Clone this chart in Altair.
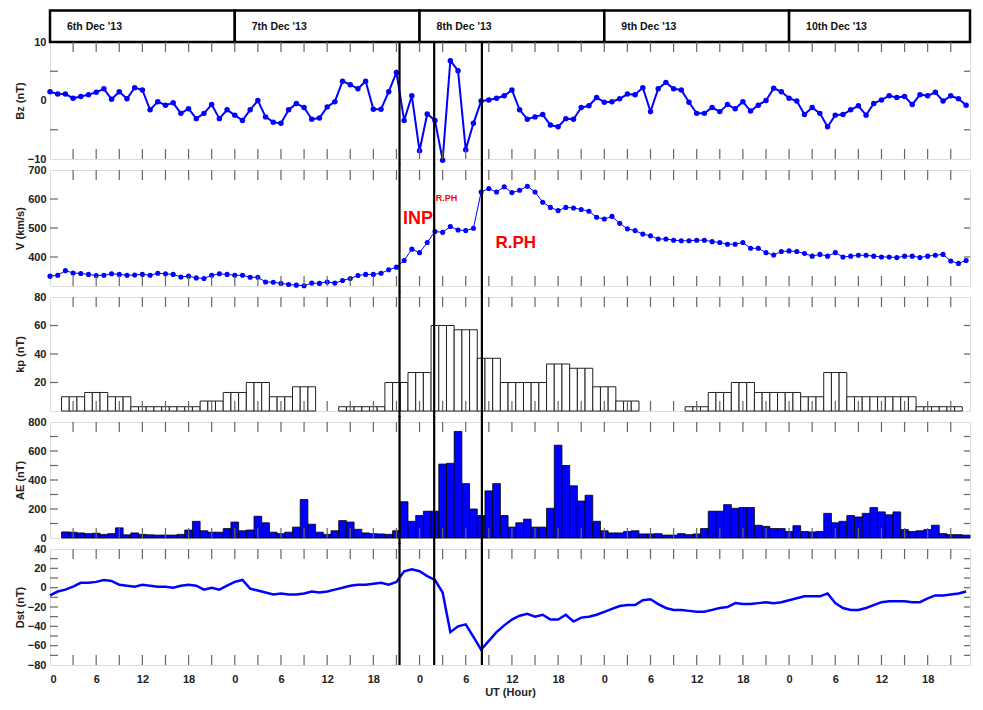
import altair as alt
import pandas as pd

# ---------------- data ----------------
hours = list(range(120))

bz = [1.5, 1.1, 1.1, 0.4, 0.7, 1.0, 1.4, 2.0, 0.2, 1.5, 0.3, 2.2, 1.8, -1.6, -0.2, -0.8, -0.4, -2.2, -1.4, -3.1,
      -2.2, -0.7, -3.1, -1.6, -2.5, -3.4, -1.6, 0.0, -2.8, -3.7, -3.9, -1.6, -0.5, -1.2, -3.2, -3.0, -1.1, -0.2, 3.3, 2.7,
      2.0, 3.3, -1.5, -1.5, 1.5, 4.8, -3.4, 0.8, -8.6, -2.3, -3.4, -10.2, 6.8, 5.1, -8.4, -3.9, -0.1, 0.1, 0.4, 0.8,
      1.8, -1.6, -3.2, -2.8, -2.4, -4.2, -4.5, -3.1, -3.2, -1.2, -0.9, 0.5, -0.3, -0.2, 0.3, 1.1, 1.0, 2.2, -1.9, 2.0,
      3.1, 2.0, 1.8, -0.3, -2.2, -2.2, -1.2, -1.9, -0.7, -1.4, -0.2, -1.8, -0.8, 0.0, 2.1, 1.5, 0.4, -0.1, -2.4, -1.2,
      -2.2, -4.5, -2.5, -2.4, -1.6, -0.9, -2.5, -0.5, 0.1, 0.8, 0.5, 0.7, -0.7, 1.0, 0.8, 1.4, -0.1, 0.8, 0.3, -0.8]

speed = [334, 337, 353, 345, 343, 340, 336, 337, 342, 340, 337, 338, 340, 337, 344, 342, 340, 331, 334, 328,
         326, 337, 342, 340, 337, 337, 330, 330, 314, 313, 309, 305, 303, 301, 310, 309, 314, 310, 319, 326,
         336, 340, 340, 344, 356, 365, 388, 427, 415, 450, 488, 485, 505, 493, 491, 499, 624, 636, 624, 642,
         622, 630, 644, 624, 589, 571, 560, 571, 569, 564, 558, 537, 531, 540, 516, 497, 491, 479, 473, 462,
         462, 458, 456, 456, 458, 458, 453, 450, 444, 444, 450, 430, 430, 415, 407, 419, 421, 419, 412, 403,
         409, 403, 415, 400, 403, 406, 406, 403, 400, 400, 398, 403, 403, 398, 403, 406, 409, 386, 378, 388]

# kp: one value per 3-hour block, first block covers hours 2-4
kp_blocks = [10, 13, 10, 3, 3, 3, 7, 13, 20, 10, 17, 0, 3, 3, 20, 27, 60, 57, 37, 20,
             20, 33, 30, 17, 7, 0, 0, 3, 13, 20, 13, 13, 10, 27, 10, 10, 10, 3, 3]

ae = [0, 0, 42, 40, 35, 30, 33, 25, 30, 70, 22, 35, 25, 22, 20, 20, 20, 25, 55, 115,
      50, 40, 40, 65, 110, 50, 55, 150, 105, 40, 30, 40, 75, 265, 95, 40, 25, 50, 120, 110,
      60, 35, 30, 28, 25, 50, 250, 115, 155, 185, 185, 510, 515, 735, 375, 200, 155, 325, 375, 155,
      75, 105, 130, 75, 75, 205, 640, 500, 360, 255, 295, 115, 50, 35, 35, 45, 50, 28, 28, 30,
      20, 20, 30, 23, 28, 65, 185, 185, 230, 205, 210, 210, 88, 80, 65, 65, 45, 85, 45, 42,
      45, 170, 105, 115, 155, 145, 170, 210, 180, 160, 180, 58, 45, 50, 58, 88, 30, 23, 23, 20]

dst = [-8, -4, -2, 1, 5, 5, 6, 8, 7, 3, 2, 1, 3, 2, 1, 1, 0, 2, 3, 2,
       -2, 0, -2, 2, 6, 8, -1, -3, -5, -7, -6, -7, -7, -6, -4, -5, -4, -2, 0, 2,
       3, 3, 4, 5, 3, 6, 17, 19, 17, 12, 8, -5, -46, -40, -38, -51, -64, -55, -46, -39,
       -33, -29, -27, -30, -28, -33, -33, -28, -35, -31, -30, -28, -25, -22, -19, -18, -18, -13, -12, -17,
       -21, -23, -23, -24, -25, -25, -23, -21, -20, -16, -17, -17, -16, -15, -16, -15, -13, -11, -9, -9,
       -9, -6, -16, -21, -23, -23, -21, -18, -15, -14, -14, -14, -15, -15, -11, -8, -8, -7, -6, -4]

day_labels = ["6th Dec '13", "7th Dec '13", "8th Dec '13", "9th Dec '13", "10th Dec '13"]
day_start = [0, 24, 48, 72, 96]
day_end = [24, 48, 72, 96, 119.5]

event_hours = [45.4, 49.9, 56.1]

ann_text = ["INP", "R.PH", "R.PH"]
ann_hour = [47.8, 51.5, 60.5]
ann_value = [531, 603, 448]
ann_size = [18, 9, 17]

# ---------------- tables ----------------
kp_hourly = [0, 0] + [b for b in kp_blocks for _ in range(3)] + [0]

df_bz = pd.DataFrame({"t": hours, "v": bz})
df_v = pd.DataFrame({"t": hours, "v": speed})
df_kp = pd.DataFrame({"t": [h - 0.5 for h in hours], "t2": [h + 0.5 for h in hours], "v": kp_hourly})
df_kp = df_kp[df_kp.v > 0]
df_ae = pd.DataFrame({"t": [h - 0.5 for h in hours], "t2": [h + 0.5 for h in hours], "v": ae})
df_ae = df_ae[df_ae.v > 0]
df_dst = pd.DataFrame({"t": hours, "v": dst})
df_days = pd.DataFrame({"t": day_start, "t2": day_end, "label": day_labels})
df_ev = pd.DataFrame({"t": event_hours})
df_ann = pd.DataFrame({"t": ann_hour, "v": ann_value, "label": ann_text, "sz": ann_size})
df_xt = pd.DataFrame({"t": list(range(3, 120, 3))})

# ---------------- layout ----------------
X_DOMAIN = [0, 119.5]
W = 920
S = 11
BLUE = "#0000ff"
FRAME = "#7a7a7a"
FONT = "Liberation Sans"

xscale = alt.Scale(domain=X_DOMAIN, nice=False, zero=False)


def panel(layers_fn, ydomain, ylabels, yticks, ytitle, height, xaxis=None, ext_top=6, ext_bottom=6):
    yscale = alt.Scale(domain=ydomain, nice=False, zero=False)
    yaxis = alt.Axis(values=ylabels, ticks=False, domain=False, grid=False, labelPadding=4,
                     labelFontSize=11, labelFontWeight="bold", labelColor="#222", labelFont=FONT,
                     title=ytitle, titleX=-25, titleFontSize=11, titleFontWeight="bold",
                     titleColor="#222", titleFont=FONT)

    def X(f="t"):
        return alt.X(f"{f}:Q", scale=xscale, axis=xaxis)

    def Y(f="v"):
        return alt.Y(f"{f}:Q", scale=yscale, axis=yaxis)

    df_yt = pd.DataFrame({"v": yticks})
    parts = []
    parts += layers_fn(X, Y)
    # inward ticks
    parts.append(alt.Chart(df_xt).mark_rule(color="#666", strokeWidth=1.2).encode(
        x=X(), y=alt.value(0), y2=alt.value(10)))
    parts.append(alt.Chart(df_xt).mark_rule(color="#666", strokeWidth=1.2).encode(
        x=X(), y=alt.value(height - 10), y2=alt.value(height)))
    parts.append(alt.Chart(df_yt).mark_rule(color="#666", strokeWidth=1.2).encode(
        y=Y(), x=alt.value(0), x2=alt.value(8)))
    parts.append(alt.Chart(df_yt).mark_rule(color="#666", strokeWidth=1.2).encode(
        y=Y(), x=alt.value(W - 6), x2=alt.value(W)))
    # event lines
    parts.append(alt.Chart(df_ev).mark_rule(color="black", strokeWidth=2.2).encode(
        x=X(), y=alt.value(-ext_top), y2=alt.value(height + ext_bottom)))
    return alt.layer(*parts).properties(width=W, height=height)


def bz_layers(X, Y):
    return [
        alt.Chart(df_days).mark_rect(fill="white", stroke="black", strokeWidth=2.5).encode(
            x=X(), x2=alt.X2("t2:Q"), y=alt.value(-31.5), y2=alt.value(0)),
        alt.Chart(df_days).mark_text(align="left", baseline="middle", dx=17, fontSize=10.5,
                                     fontWeight="bold", font=FONT, color="#111").encode(
            x=X(), y=alt.value(-15.5), text="label:N"),
        alt.Chart(df_bz).mark_line(color=BLUE, strokeWidth=2).encode(x=X(), y=Y()),
        alt.Chart(df_bz).mark_circle(color=BLUE, size=30, opacity=1).encode(x=X(), y=Y()),
    ]


def v_layers(X, Y):
    return [
        alt.Chart(df_v).mark_line(color=BLUE, strokeWidth=1).encode(x=X(), y=Y()),
        alt.Chart(df_v).mark_circle(color=BLUE, size=26, opacity=1).encode(x=X(), y=Y()),
        alt.Chart(df_ann).mark_text(color="#ff0000", fontWeight="bold", font=FONT,
                                    align="center", baseline="middle").encode(
            x=X(), y=Y(), text="label:N", size=alt.Size("sz:Q", scale=None, legend=None)),
    ]


def kp_layers(X, Y):
    return [
        alt.Chart(df_kp).mark_rect(fill="white", stroke="#222", strokeWidth=1).encode(
            x=X(), x2=alt.X2("t2:Q"), y=Y(), y2=alt.Y2(datum=0)),
    ]


def ae_layers(X, Y):
    return [
        alt.Chart(df_ae).mark_rect(fill=BLUE, stroke="black", strokeWidth=0.8).encode(
            x=X(), x2=alt.X2("t2:Q"), y=Y(), y2=alt.Y2(datum=0)),
    ]


def dst_layers(X, Y):
    return [
        alt.Chart(df_dst).mark_line(color=BLUE, strokeWidth=2.5).encode(x=X(), y=Y()),
    ]


xaxis_bottom = alt.Axis(values=list(range(0, 120, 6)), labelExpr="datum.value % 24", ticks=False,
                        domain=False, grid=False, labelPadding=8, labelFontSize=11, labelFontWeight="bold",
                        labelColor="#222", labelFont=FONT, title="UT (Hour)", titleFontSize=11,
                        titleFontWeight="bold", titleColor="#222", titleFont=FONT, titlePadding=2)

p_bz = panel(bz_layers, [-10, 10], [-10, 0, 10], [-5, 5], "Bz (nT)", 117, ext_top=0)
p_v = panel(v_layers, [300, 700], [400, 500, 600, 700], [400, 500, 600], "V (km/s)", 116)
p_kp = panel(kp_layers, [0, 80], [20, 40, 60, 80], [20, 40, 60], "kp (nT)", 114)
p_ae = panel(ae_layers, [0, 800], [0, 200, 400, 600, 800], [100, 200, 300, 400, 500, 600, 700],
             "AE (nT)", 116)
p_dst = panel(dst_layers, [-80, 40], list(range(-80, 41, 20)), list(range(-70, 31, 10)), "Dst (nT)", 116,
              xaxis=xaxis_bottom, ext_bottom=0)

chart = alt.vconcat(p_bz, p_v, p_kp, p_ae, p_dst, spacing=S, bounds="flush").properties(
    padding={"left": 5, "top": 0, "right": 0, "bottom": 0}
).configure_view(stroke=FRAME, strokeWidth=1.5).configure(font=FONT)

chart.save("out.html", embed_options={"renderer": "svg", "actions": False})
